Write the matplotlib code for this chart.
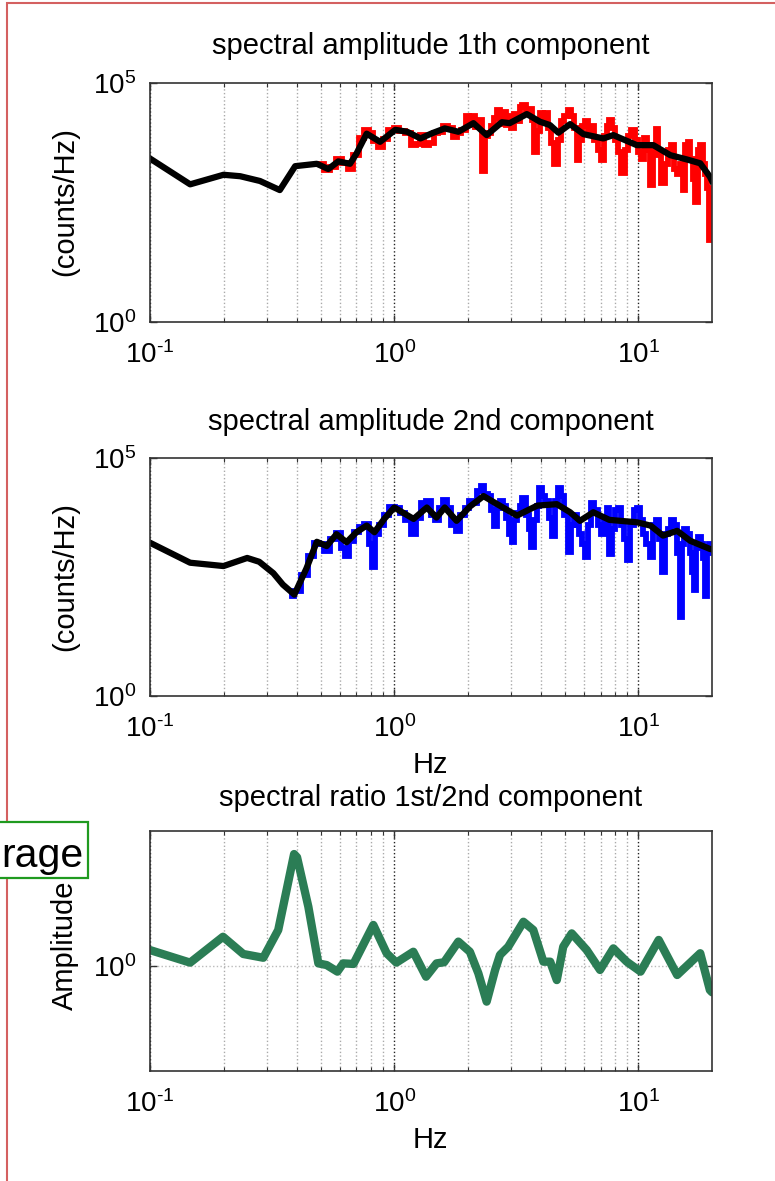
import matplotlib
matplotlib.use('Agg')
import matplotlib.pyplot as plt
import numpy as np
from matplotlib.patches import Rectangle
from matplotlib.ticker import FixedLocator, NullFormatter

plt.rcParams['font.family'] = ['Liberation Sans', 'DejaVu Sans']
plt.rcParams['mathtext.fontset'] = 'custom'
plt.rcParams['mathtext.rm'] = 'Liberation Sans'
plt.rcParams['mathtext.it'] = 'Liberation Sans:italic'
plt.rcParams['mathtext.bf'] = 'Liberation Sans:bold'

# ---------------- data (log10 of amplitude) ----------------
titles = ['spectral amplitude 1th component',
          'spectral amplitude 2nd component',
          'spectral ratio 1st/2nd component']
xtick_vals = [0.1, 1, 10]
xtick_labels = [r'$10^{\text{-}1}$', r'$10^{0}$', r'$10^{1}$']
xminor_vals = [0.2, 0.3, 0.4, 0.5, 0.6, 0.7, 0.8, 0.9, 2, 3, 4, 5, 6, 7, 8, 9]
amp_ytick_vals = [1, 1e5]
amp_ytick_labels = [r'$10^{0}$', r'$10^{5}$']
ratio_ytick_vals = [1]
ratio_ytick_labels = [r'$10^{0}$']

# component 1: smoothed (black)
smooth1_f = [0.10, 0.146, 0.20, 0.234, 0.282, 0.340, 0.393, 0.482, 0.537, 0.590, 0.659,
             0.70, 0.771, 0.875, 1.01, 1.13, 1.28, 1.43, 1.61, 1.83, 2.11, 2.39, 2.76,
             2.97, 3.49, 3.95, 4.34, 4.70, 5.25, 5.95, 7.18, 7.89, 9.84, 11.5, 13.5,
             15.8, 17.9, 19.6, 20.0]
smooth1_log = [3.42, 2.88, 3.08, 3.05, 2.95, 2.76, 3.26, 3.31, 3.20, 3.36, 3.31,
               3.52, 3.94, 3.77, 4.02, 3.98, 3.84, 3.95, 4.05, 3.98, 4.16, 3.91, 4.18,
               4.16, 4.35, 4.19, 4.12, 3.96, 4.14, 3.93, 3.84, 3.91, 3.70, 3.70, 3.49,
               3.40, 3.32, 3.04, 2.95]
# component 1: raw spectrum (red)
raw1_f = [0.50, 0.53, 0.56, 0.59, 0.63, 0.66, 0.70, 0.74, 0.77, 0.80, 0.84, 0.88, 0.92,
          0.97, 1.02, 1.08, 1.14, 1.20, 1.26, 1.30, 1.36, 1.42, 1.48, 1.55, 1.62, 1.70,
          1.78, 1.85, 1.92, 2.00, 2.05, 2.12, 2.18, 2.25, 2.32, 2.38, 2.45, 2.52, 2.60,
          2.68, 2.75, 2.82, 2.90, 2.98, 3.06, 3.14, 3.22, 3.30, 3.40, 3.50, 3.60, 3.70,
          3.80, 3.90, 4.00, 4.10, 4.20, 4.30, 4.45, 4.60, 4.75, 4.90, 5.05, 5.20, 5.35,
          5.50, 5.65, 5.80, 5.95, 6.10, 6.30, 6.50, 6.70, 6.90, 7.10, 7.30, 7.50, 7.70,
          7.90, 8.10, 8.35, 8.65, 8.90, 9.20, 9.50, 9.80, 10.1, 10.4, 10.7, 11.0, 11.3,
          11.6, 11.9, 12.2, 12.6, 13.0, 13.4, 13.8, 14.2, 14.6, 15.0, 15.3, 15.7, 16.1,
          16.5, 16.9, 17.3, 17.7, 18.1, 18.5, 18.9, 19.3, 19.6, 19.8, 20.0]
raw1_log = [3.30, 3.18, 3.25, 3.40, 3.33, 3.20, 3.50, 3.85, 4.02, 3.95, 3.78, 3.66, 3.82,
            4.02, 4.06, 4.00, 3.96, 3.70, 3.72, 3.92, 3.70, 3.74, 3.95, 3.98, 4.10, 4.06,
            3.86, 3.95, 4.02, 4.30, 4.12, 4.30, 4.08, 4.22, 3.15, 3.90, 3.95, 4.10, 4.26,
            4.44, 4.15, 4.40, 4.12, 4.30, 4.05, 4.35, 4.20, 4.50, 4.54, 4.40, 4.45, 4.22,
            3.56, 4.00, 4.38, 4.25, 4.38, 4.05, 3.75, 3.30, 3.80, 4.20, 4.30, 4.44, 4.30,
            4.05, 3.39, 3.80, 4.10, 4.20, 3.95, 4.10, 3.80, 3.60, 3.39, 3.90, 4.10, 4.23,
            4.05, 3.80, 3.55, 3.11, 3.60, 3.90, 4.02, 3.80, 3.55, 3.40, 3.85, 3.60, 2.87,
            3.70, 4.03, 3.50, 2.90, 3.30, 3.60, 3.70, 3.20, 3.10, 3.30, 2.76, 3.70, 3.77,
            3.40, 3.00, 2.52, 3.60, 3.70, 3.30, 3.10, 2.80, 1.72, 2.30, 2.60]

# component 2: smoothed (black)
smooth2_f = [0.10, 0.146, 0.20, 0.25, 0.28, 0.32, 0.35, 0.39, 0.437, 0.482, 0.529, 0.58,
             0.638, 0.70, 0.771, 0.83, 0.91, 1.0, 1.2, 1.36, 1.49, 1.61, 1.8, 2.04, 2.32,
             2.64, 3.18, 3.85, 4.63, 5.25, 5.76, 6.53, 7.6, 9.84, 11.2, 12.6, 14.4, 16.3,
             19.6, 20.0]
smooth2_log = [3.22, 2.80, 2.73, 2.90, 2.82, 2.58, 2.34, 2.13, 2.68, 3.24, 3.15, 3.40,
               3.23, 3.44, 3.58, 3.44, 3.72, 3.96, 3.72, 3.96, 3.75, 3.96, 3.68, 3.98, 4.20,
               4.03, 3.79, 4.00, 4.03, 3.86, 3.68, 3.86, 3.70, 3.65, 3.58, 3.37, 3.47, 3.26,
               3.09, 3.08]
# component 2: raw spectrum (blue)
raw2_f = [0.38, 0.40, 0.43, 0.46, 0.48, 0.50, 0.53, 0.56, 0.59, 0.62, 0.64, 0.67, 0.70,
          0.74, 0.77, 0.80, 0.82, 0.85, 0.89, 0.93, 0.98, 1.03, 1.08, 1.14, 1.20, 1.26,
          1.32, 1.38, 1.44, 1.50, 1.56, 1.62, 1.68, 1.75, 1.82, 1.90, 1.98, 2.06, 2.14,
          2.22, 2.30, 2.38, 2.46, 2.54, 2.60, 2.68, 2.76, 2.84, 2.92, 3.00, 3.06, 3.14,
          3.22, 3.30, 3.40, 3.50, 3.60, 3.68, 3.78, 3.88, 3.98, 4.10, 4.22, 4.35, 4.50,
          4.62, 4.75, 4.90, 5.05, 5.20, 5.35, 5.50, 5.65, 5.80, 5.95, 6.10, 6.30, 6.50,
          6.70, 6.90, 7.10, 7.30, 7.50, 7.70, 7.90, 8.10, 8.35, 8.60, 8.85, 9.10, 9.40,
          9.70, 10.0, 10.3, 10.6, 10.9, 11.3, 11.6, 11.9, 12.3, 12.6, 13.0, 13.4, 13.8,
          14.2, 14.6, 14.9, 15.2, 15.6, 16.0, 16.4, 16.8, 17.0, 17.4, 17.8, 18.2, 18.5,
          18.8, 19.2, 19.6, 20.0]
raw2_log = [2.10, 2.20, 2.55, 2.95, 3.22, 3.20, 3.05, 3.30, 3.42, 3.10, 2.95, 3.25, 3.45,
            3.55, 3.62, 3.20, 2.70, 3.40, 3.60, 3.80, 3.98, 3.95, 3.85, 3.70, 3.40, 3.75,
            4.05, 4.10, 3.80, 3.70, 3.95, 4.12, 3.95, 3.60, 3.47, 3.80, 3.95, 4.10, 4.05,
            4.30, 4.41, 4.25, 4.20, 3.90, 3.58, 3.95, 4.10, 4.00, 3.75, 3.40, 3.23, 3.70,
            3.85, 4.00, 4.15, 3.80, 3.50, 3.12, 3.70, 4.00, 4.36, 4.20, 4.10, 3.75, 3.37,
            4.10, 4.36, 4.20, 3.80, 3.02, 3.60, 3.80, 3.60, 3.40, 3.20, 2.91, 3.60, 4.05,
            3.90, 3.60, 3.40, 3.70, 3.95, 2.98, 3.50, 3.90, 3.95, 3.60, 3.30, 2.85, 3.60,
            3.90, 3.95, 3.70, 3.40, 3.20, 2.91, 3.60, 3.70, 3.30, 2.60, 3.40, 3.50, 3.70,
            3.60, 3.00, 1.66, 3.20, 3.50, 3.40, 3.00, 2.60, 2.22, 3.10, 3.35, 3.20, 2.90,
            2.11, 3.00, 3.20, 3.10]

# spectral ratio (green)
ratio_f = [0.10, 0.146, 0.199, 0.241, 0.291, 0.335, 0.389, 0.40, 0.445, 0.489, 0.529,
           0.585, 0.618, 0.681, 0.821, 0.931, 1.02, 1.197, 1.35, 1.49, 1.60, 1.83, 2.04,
           2.21, 2.39, 2.59, 2.71, 2.93, 3.38, 3.71, 4.08, 4.35, 4.63, 4.92, 5.33, 6.14,
           6.96, 7.89, 8.95, 10.2, 12.1, 14.4, 17.9, 19.6, 20.0]
ratio_log = [0.085, 0.018, 0.156, 0.064, 0.044, 0.192, 0.597, 0.58, 0.316, 0.014, 0.005,
             -0.03, 0.014, 0.011, 0.219, 0.068, 0.018, 0.076, -0.057, 0.014, 0.02, 0.13,
             0.076, -0.039, -0.19, -0.02, 0.059, 0.103, 0.236, 0.192, 0.023, 0.023, -0.075,
             0.103, 0.174, 0.085, -0.021, 0.094, 0.023, -0.03, 0.139, -0.048, 0.068,
             -0.128, -0.14]

# ---------------- figure ----------------
W, H = 775, 1181
fig = plt.figure(figsize=(W / 100, H / 100), dpi=100)


def fx(px):
    return px / W


def fy(py):
    return 1 - py / H


def make_ax(top, bottom):
    return fig.add_axes([fx(150), fy(bottom), fx(712) - fx(150), fy(top) - fy(bottom)])


def style(ax, ylim, yt, ytl, ygrid=False):
    ax.set_xscale('log')
    ax.set_yscale('log')
    ax.set_xlim(0.1, 20)
    ax.set_ylim(*ylim)
    ax.xaxis.set_major_locator(FixedLocator(xtick_vals))
    ax.set_xticklabels(xtick_labels)
    ax.xaxis.set_minor_locator(FixedLocator(xminor_vals))
    ax.xaxis.set_minor_formatter(NullFormatter())
    ax.yaxis.set_major_locator(FixedLocator(yt))
    ax.set_yticklabels(ytl)
    ax.yaxis.set_minor_locator(FixedLocator([]))
    ax.yaxis.set_minor_formatter(NullFormatter())
    ax.tick_params(which='both', direction='in', top=True, right=True,
                   labelsize=20, color='#333333')
    ax.tick_params(which='major', length=5, width=1)
    ax.tick_params(which='minor', length=3, width=0.8)
    ax.tick_params(axis='x', which='major', pad=14)
    ax.tick_params(axis='y', which='major', pad=10)
    ax.grid(True, which='major', axis='x', ls=':', color='#222222', lw=1.0)
    ax.grid(True, which='minor', axis='x', ls=':', color='#aaaaaa', lw=1.0)
    if ygrid:
        ax.grid(True, which='major', axis='y', ls=':', color='#bbbbbb', lw=1.0)
    for s in ax.spines.values():
        s.set_color('#333333')
        s.set_linewidth(1.2)
    ax.set_axisbelow(True)


ax1 = make_ax(83, 322)
ax1.plot(raw1_f, 10 ** np.array(raw1_log), color='#ff0000', lw=4.2,
         drawstyle='steps-mid', solid_joinstyle='miter')
ax1.plot(smooth1_f, 10 ** np.array(smooth1_log), color='black', lw=4.5)
style(ax1, (1, 1e5), amp_ytick_vals, amp_ytick_labels)

ax2 = make_ax(458, 696)
ax2.plot(raw2_f, 10 ** np.array(raw2_log), color='#0000ff', lw=4.2,
         drawstyle='steps-mid', solid_joinstyle='miter')
ax2.plot(smooth2_f, 10 ** np.array(smooth2_log), color='black', lw=4.5)
style(ax2, (1, 1e5), amp_ytick_vals, amp_ytick_labels)

ax3 = make_ax(831, 1071)
ax3.plot(ratio_f, 10 ** np.array(ratio_log), color='#2b7d55', lw=6.0,
         solid_joinstyle='round', solid_capstyle='round')
style(ax3, (10 ** -0.56, 10 ** 0.72), ratio_ytick_vals, ratio_ytick_labels, ygrid=True)

# titles and labels
fs = 21
fig.text(fx(431), fy(46), titles[0], ha='center', va='center', fontsize=fs)
fig.text(fx(431), fy(422), titles[1], ha='center', va='center', fontsize=fs)
fig.text(fx(431), fy(798), titles[2], ha='center', va='center', fontsize=fs)
fig.text(fx(65), fy(202), '(counts/Hz)', rotation=90, ha='center', va='center', fontsize=fs)
fig.text(fx(65), fy(577), '(counts/Hz)', rotation=90, ha='center', va='center', fontsize=fs)
fig.text(fx(65), fy(945), 'Amplitude', rotation=90, ha='center', va='center', fontsize=fs)
fig.text(fx(430), fy(765), 'Hz', ha='center', va='center', fontsize=fs)
fig.text(fx(430), fy(1140), 'Hz', ha='center', va='center', fontsize=fs)

# red frame of the screenshot
fig.patches.append(Rectangle((fx(7), fy(1300)), fx(900), fy(3) - fy(1300),
                             transform=fig.transFigure, fill=False,
                             edgecolor='#d46060', lw=1.5, zorder=5))
# green annotation box (cut by the left edge)
fig.patches.append(Rectangle((fx(-40), fy(878)), fx(128), fy(822) - fy(878),
                             transform=fig.transFigure, facecolor='white',
                             edgecolor='#1f9a1f', lw=1.6, zorder=6))
fig.text(fx(84), fy(867), 'rage', ha='right', va='baseline', fontsize=29.5, zorder=7)

fig.savefig('out.png', dpi=100)
